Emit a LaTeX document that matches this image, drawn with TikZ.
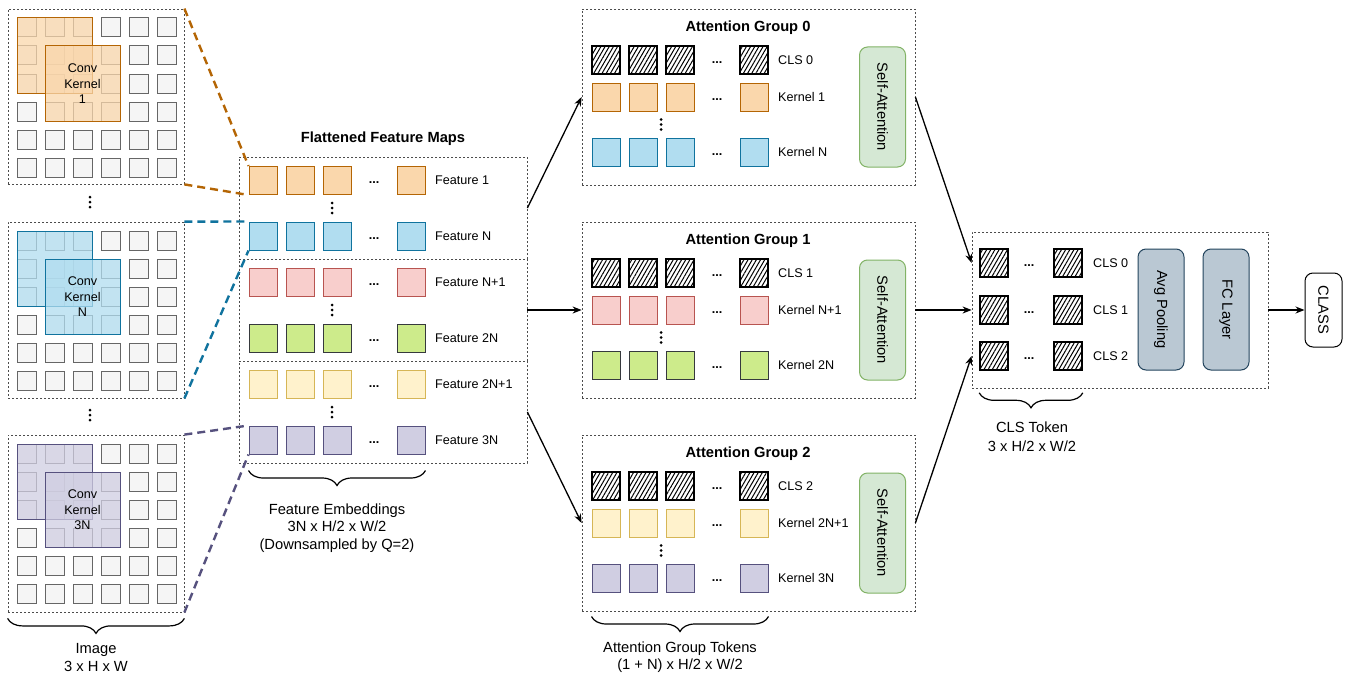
\documentclass[tikz,border=0pt]{standalone}
\usepackage{fontspec}
\setmainfont{Liberation Sans}
\usetikzlibrary{arrows.meta,patterns.meta,decorations.pathreplacing,calc}

\definecolor{orF}{HTML}{FAD7AC}\definecolor{orD}{HTML}{B46504}
\definecolor{blF}{HTML}{B1DDF0}\definecolor{blD}{HTML}{10739E}
\definecolor{rdF}{HTML}{F8CECC}\definecolor{rdD}{HTML}{B85450}
\definecolor{grF}{HTML}{CDEB8B}\definecolor{grD}{HTML}{36393D}
\definecolor{yeF}{HTML}{FFF2CC}\definecolor{yeD}{HTML}{D6B656}
\definecolor{puF}{HTML}{D0CEE2}\definecolor{puD}{HTML}{56517E}
\definecolor{saF}{HTML}{D5E8D4}\definecolor{saD}{HTML}{82B366}
\definecolor{poF}{HTML}{BAC8D3}\definecolor{poD}{HTML}{23445D}
\definecolor{clF}{HTML}{F5F5F5}\definecolor{clD}{HTML}{666666}

\tikzset{
  dbox/.style={draw=black!70, dash pattern=on 2pt off 2pt, line width=0.8pt, inner sep=0pt},
  tok/.style={rectangle, minimum size=28pt, inner sep=0pt, line width=1pt},
  orT/.style={tok, fill=orF, draw=orD},
  blT/.style={tok, fill=blF, draw=blD},
  rdT/.style={tok, fill=rdF, draw=rdD},
  grT/.style={tok, fill=grF, draw=grD},
  yeT/.style={tok, fill=yeF, draw=yeD},
  puT/.style={tok, fill=puF, draw=puD},
  hatT/.style={tok, draw=black, line width=1.6pt,
    pattern={Lines[angle=60,distance=3.6pt,line width=1pt]}},
  small/.style={font=\fontsize{12.6}{15.5}\selectfont},
  big/.style={font=\fontsize{14.7}{18}\selectfont},
  ttl/.style={font=\fontsize{14.7}{18}\selectfont\bfseries},
  lbl/.style={small, anchor=west, inner sep=0pt},
  hdots/.style={font=\fontsize{12.6}{15}\selectfont\bfseries, inner sep=0pt, yshift=-2.5pt},
  cell/.style={fill=clF, draw=clD, line width=1pt},
  kern/.style={line width=1pt, fill opacity=0.75},
  arr/.style={-{Stealth[length=9pt,width=7pt]}, line width=1.3pt},
  link/.style={line width=2.4pt, dash pattern=on 8pt off 5pt},
  brc/.style={decorate, decoration={brace, mirror, amplitude=15pt}, line width=1.2pt},
  rbox/.style={rectangle, rounded corners=8pt, line width=1pt, inner sep=0pt,
    minimum width=120pt, minimum height=46pt, rotate=-90, big},
}

% one row of tokens: name, x and y of the first token's centre, style, label
\newcommand\tokrow[5]{%
  \node[#4] (#1-1) at (#2,#3) {};
  \node[#4] (#1-2) at ({#2+37},#3) {};
  \node[#4] (#1-3) at ({#2+74},#3) {};
  \node[hdots] (#1-d) at ({#2+111},#3) {...};
  \node[#4] (#1-4) at ({#2+148},#3) {};
  \node[lbl] (#1-l) at ({#2+172},#3) {#5};
}
% three stacked dots
\newcommand\vdotsat[2]{\foreach \k in {-5,0,5}{\fill ({#1},{#2+\k}) circle (1.5pt);}}
% 6 x 6 grid of pixels, first cell's top-left corner
\newcommand\pixgrid[2]{\foreach \i in {0,...,5}{\foreach \j in {0,...,5}{
  \draw[cell] ({#1+28*\i},{#2+28*\j}) rectangle ++(19,19);}}}

\begin{document}
\begin{tikzpicture}[x=1pt,y=-1pt]
\useasboundingbox[fill=white] (0,0) rectangle (1346,677);

% ---------- input images ----------
\node[dbox, minimum width=176pt, minimum height=175pt] (im1) at (96,96.5) {};
\node[dbox, minimum width=176pt, minimum height=176pt] (im2) at (96,310) {};
\node[dbox, minimum width=176pt, minimum height=177pt] (im3) at (96,523.5) {};
\pixgrid{17}{18}
\pixgrid{17}{231}
\pixgrid{17}{444}
\draw[kern, fill=orF, draw=orD] (17,18) rectangle (92,93);
\draw[kern, fill=orF, draw=orD] (45,46) rectangle (120,121);
\draw[kern, fill=blF, draw=blD] (17,231) rectangle (92,306);
\draw[kern, fill=blF, draw=blD] (45,259) rectangle (120,334);
\draw[kern, fill=puF, draw=puD] (17,444) rectangle (92,519);
\draw[kern, fill=puF, draw=puD] (45,472) rectangle (120,547);
\node[small, align=center] (kl1) at (82.5,84) {Conv\\Kernel\\1};
\node[small, align=center] (kl2) at (82.5,297) {Conv\\Kernel\\N};
\node[small, align=center] (kl3) at (82.5,510) {Conv\\Kernel\\3N};
\vdotsat{90}{202}
\vdotsat{90}{415}
\draw[brc] ($(im3.south west)+(0,6)$) -- ($(im3.south east)+(0,6)$);
\node[big, align=center] (imlbl) at (96,658) {Image\\3 x H x W};

% ---------- flattened feature maps ----------
\node[ttl] (fttl) at (383,139) {Flattened Feature Maps};
\node[dbox, minimum width=288pt, minimum height=102pt] (fs1) at (383,208) {};
\node[dbox, minimum width=288pt, minimum height=102pt] (fs2) at (383,310) {};
\node[dbox, minimum width=288pt, minimum height=102pt] (fs3) at (383,412) {};
\tokrow{f1}{263}{180.5}{orT}{Feature 1}
\tokrow{f2}{263}{236}{blT}{Feature N}
\tokrow{f3}{263}{282}{rdT}{Feature N+1}
\tokrow{f4}{263}{338}{grT}{Feature 2N}
\tokrow{f5}{263}{384}{yeT}{Feature 2N+1}
\tokrow{f6}{263}{440}{puT}{Feature 3N}
\vdotsat{332}{208}
\vdotsat{332}{310}
\vdotsat{332}{412}
\draw[brc] ($(f6-1.south west)+(0,16)$) -- ($(f6-4.south east)+(0,16)$);
\node[big, align=center, font=\fontsize{14.7}{17.5}\selectfont] (flbl) at (337,528) {Feature Embeddings\\3N x H/2 x W/2\\(Downsampled by Q=2)};

% kernel-to-feature links
\draw[link, orD] (im1.north east) -- (f1-1.north west);
\draw[link, orD] (im1.south east) -- (f1-1.south west);
\draw[link, blD] (im2.north east) -- (f2-1.north west);
\draw[link, blD] (im2.south east) -- (f2-1.south west);
\draw[link, puD] (im3.north east) -- (f6-1.north west);
\draw[link, puD] (im3.south east) -- (f6-1.south west);

% ---------- attention groups ----------
\node[dbox, minimum width=333pt, minimum height=176pt] (g0) at (748.5,97) {};
\node[dbox, minimum width=333pt, minimum height=176pt] (g1) at (748.5,310) {};
\node[dbox, minimum width=333pt, minimum height=176pt] (g2) at (748.5,523) {};
\node[ttl] (t0) at (748,28) {Attention Group 0};
\node[ttl] (t1) at (748,241) {Attention Group 1};
\node[ttl] (t2) at (748,454) {Attention Group 2};

\tokrow{g0a}{606}{60}{hatT}{CLS 0}
\tokrow{g0b}{606}{97}{orT}{Kernel 1}
\tokrow{g0c}{606}{152}{blT}{Kernel N}
\tokrow{g1a}{606}{273}{hatT}{CLS 1}
\tokrow{g1b}{606}{310}{rdT}{Kernel N+1}
\tokrow{g1c}{606}{365}{grT}{Kernel 2N}
\tokrow{g2a}{606}{486}{hatT}{CLS 2}
\tokrow{g2b}{606}{523}{yeT}{Kernel 2N+1}
\tokrow{g2c}{606}{578}{puT}{Kernel 3N}
\vdotsat{661}{124.5}
\vdotsat{661}{337.5}
\vdotsat{661}{550.5}

\node[rbox, fill=saF, draw=saD] (sa0) at (882.5,107) {Self-Attention};
\node[rbox, fill=saF, draw=saD] (sa1) at (882.5,320) {Self-Attention};
\node[rbox, fill=saF, draw=saD] (sa2) at (882.5,533) {Self-Attention};

\draw[brc] ($(g2c-1.south west)+(0,24)$) -- ($(g2c-4.south east)+(0,24)$);
\node[big, align=center, font=\fontsize{14.7}{17}\selectfont] (glbl) at (680,657) {Attention Group Tokens\\(1 + N) x H/2 x W/2};

% ---------- CLS tokens and head ----------
\node[dbox, minimum width=296pt, minimum height=156pt] (cb) at (1120,310) {};
\foreach \r/\yy in {0/263,1/310,2/356}{
  \node[hatT] (c\r-1) at (994,\yy) {};
  \node[hdots] (c\r-d) at (1029,\yy) {...};
  \node[hatT] (c\r-4) at (1068,\yy) {};
  \node[lbl] (c\r-l) at (1093,\yy) {CLS \r};
}
\node[rbox, minimum width=121pt, fill=poF, draw=poD] (avg) at (1161,309.5) {Avg Pooling};
\node[rbox, minimum width=121pt, fill=poF, draw=poD] (fc) at (1226,309.5) {FC Layer};
\node[rbox, minimum width=74pt, minimum height=37pt, fill=white, draw=black] (cls) at (1323.5,310) {CLASS};
\draw[brc] ($(c2-1.south west)+(0,22)$) -- ($(c2-4.south east)+(0,22)$);
\node[big, align=center, font=\fontsize{14.7}{19}\selectfont] (clbl) at (1032,437) {CLS Token\\3 x H/2 x W/2};

% ---------- arrows ----------
\draw[arr] (fs1.east) -- (g0.west |- g0b-1);
\draw[arr] (fs2.east) -- (g1.west);
\draw[arr] (fs3.east) -- (g2.west |- g2b-1);
\draw[arr] (g0.east |- g0b-1) -- (cb.west |- c0-1);
\draw[arr] (g1.east) -- (cb.west);
\draw[arr] (g2.east |- g2b-1) -- (cb.west |- c2-1);
% the CLASS box is turned a quarter clockwise, so its south side faces left
\draw[arr] (cb.east) -- (cls.south);
\end{tikzpicture}
\end{document}
